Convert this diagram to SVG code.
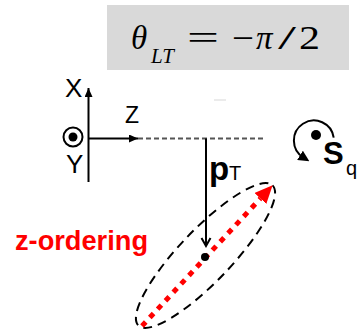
<svg xmlns="http://www.w3.org/2000/svg" width="357" height="334" viewBox="0 0 357 334">
<style>
.math{font-family:"Liberation Serif","DejaVu Serif",serif;fill:#000}
.it{font-style:italic}
.lbl{font-family:"Liberation Sans",Arial,sans-serif;fill:#000}
.b{font-weight:bold}
.ln{stroke:#000;stroke-width:2;fill:none}
</style>
<defs>
<marker id="axArr" markerUnits="userSpaceOnUse" markerWidth="9" markerHeight="8" refX="9" refY="4" orient="auto"><path d="M0,0 L9,4 L0,8 z" fill="#000"/></marker>
<marker id="openV" markerUnits="userSpaceOnUse" markerWidth="11" markerHeight="12" refX="9" refY="5.5" orient="auto"><path d="M1,1 L9,5.5 L1,10" fill="none" stroke="#000" stroke-width="2"/></marker>
<marker id="redArr" markerUnits="userSpaceOnUse" markerWidth="18" markerHeight="16" refX="0" refY="8" orient="auto"><path d="M0,0 L18,8 L0,16 z" fill="#ff0000"/></marker>
<marker id="spinArr" markerUnits="userSpaceOnUse" markerWidth="11" markerHeight="11" refX="4" refY="5.5" orient="auto"><path d="M0,0 L11,5.5 L0,11 z" fill="#000"/></marker>
</defs>

<g id="title">
<rect x="107" y="5" width="242" height="65" fill="#d9d9d9"/>
<text class="math it" x="131" y="49" font-size="33">θ</text>
<text class="math it" x="151" y="63" font-size="21">LT</text>
<text class="math" x="187" y="49" font-size="33" textLength="32" lengthAdjust="spacingAndGlyphs">=</text>
<text class="math" x="232" y="49" font-size="33" textLength="22" lengthAdjust="spacingAndGlyphs">−</text>
<text class="math it" x="256" y="49" font-size="33">π</text>
<text class="math" x="278" y="49" font-size="33" textLength="18" lengthAdjust="spacingAndGlyphs">/</text>
<text class="math" x="299" y="49" font-size="33" textLength="21" lengthAdjust="spacingAndGlyphs">2</text>
</g>

<g id="axes">
<text class="lbl" x="65" y="97" font-size="26">X</text>
<text class="lbl" x="125" y="123" font-size="23">Z</text>
<text class="lbl" x="66" y="173" font-size="26">Y</text>
<circle cx="73" cy="137" r="9.5" class="ln"/>
<circle cx="73" cy="137" r="4.5" fill="#000"/>
</g>

<g id="smudge">
<line x1="214" y1="100" x2="226" y2="100" stroke="#e4e4e4" stroke-width="1.5"/>
</g>

<g id="pT-label">
<text class="lbl b" x="209" y="180" font-size="33">p</text>
<text class="lbl" x="229" y="180" font-size="20">T</text>
</g>

<g id="spin">
<path d="M333.7,137.7 A20,20 0 1 0 303.4,157.5" class="ln" stroke-width="2.5" marker-end="url(#spinArr)"/>
<circle cx="316" cy="135" r="5" fill="#000"/>
<text class="lbl b" x="323" y="164" font-size="31">S</text>
<text class="lbl" x="346" y="175" font-size="20">q</text>
</g>

<g id="z-ordering">
<text class="lbl b" x="15" y="250" font-size="27" style="fill:#ff0000" textLength="133" lengthAdjust="spacingAndGlyphs">z-ordering</text>
</g>

<g id="ellipse">
<ellipse cx="205.5" cy="255.5" rx="97" ry="26" transform="rotate(-46.3 205.5 255.5)" fill="none" stroke="#000" stroke-width="2" stroke-dasharray="9 6"/>
</g>

<g id="connectors">
<line x1="88.5" y1="182" x2="88.5" y2="88" class="ln" marker-end="url(#axArr)"/>
<line x1="88.5" y1="138.5" x2="138" y2="138.5" class="ln" marker-end="url(#axArr)"/>
<line x1="138" y1="138.5" x2="263" y2="138.5" stroke="#555" stroke-width="2" stroke-dasharray="5 3"/>
<line x1="206" y1="138.5" x2="206" y2="246" class="ln" marker-end="url(#openV)"/>
<line x1="142" y1="326" x2="260.4" y2="198.5" stroke="#ff0000" stroke-width="5" stroke-dasharray="5.5 6" marker-end="url(#redArr)"/>
<circle cx="205" cy="257" r="4" fill="#000"/>
</g>
</svg>
